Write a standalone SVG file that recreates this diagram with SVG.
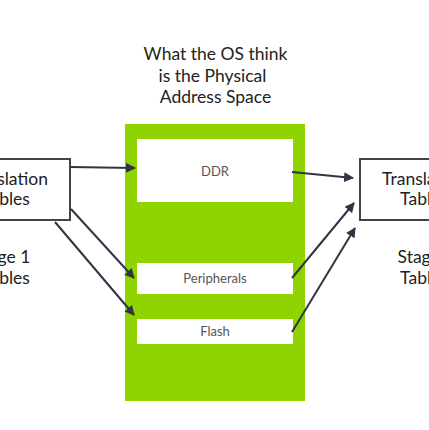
<svg xmlns="http://www.w3.org/2000/svg" width="429" height="430" viewBox="0 0 429 430">
<defs>
<marker id="ah" viewBox="0 0 10 10" refX="9" refY="5" markerWidth="5" markerHeight="5" orient="auto" markerUnits="strokeWidth">
<path d="M0,0 L10,5 L0,10 z" fill="#2f3542"/>
</marker>
<style>
text{font-family:Lato,"Open Sans","Liberation Sans",sans-serif}
.big{font-size:17.5px;fill:#222;text-anchor:middle}
.small{font-size:13px;fill:#555;text-anchor:middle}
.box{fill:#fff;stroke:#444;stroke-width:2}
.mem{fill:#fff}
.conn line{stroke:#2f3542;stroke-width:2;marker-end:url(#ah)}
</style>
</defs>
<rect width="429" height="430" fill="#fff"/>
<g id="title">
<text class="big" x="215.5" y="60">What the OS think</text>
<text class="big" x="212.5" y="82">is the Physical</text>
<text class="big" x="215.5" y="103">Address Space</text>
</g>
<g id="address-space">
<rect x="125" y="124" width="180" height="277" fill="#8fd400"/>
</g>
<g id="ddr">
<rect class="mem" x="137" y="139" width="156" height="63"/>
<text class="small" x="215" y="176">DDR</text>
</g>
<g id="peripherals">
<rect class="mem" x="137" y="263" width="156" height="31"/>
<text class="small" x="215" y="283">Peripherals</text>
</g>
<g id="flash">
<rect class="mem" x="137" y="319" width="156" height="25"/>
<text class="small" x="215" y="336">Flash</text>
</g>
<g id="left-tables">
<rect class="box" x="-54" y="159" width="124" height="61"/>
<text class="big" x="6" y="185">Translation</text>
<text class="big" x="6" y="205">Tables</text>
</g>
<g id="left-label">
<text class="big" x="2" y="263">Stage 1</text>
<text class="big" x="6" y="284">Tables</text>
</g>
<g id="right-tables">
<rect class="box" x="360" y="159" width="124" height="61"/>
<text class="big" x="424" y="185">Translation</text>
<text class="big" x="424" y="205">Tables</text>
</g>
<g id="right-label">
<text class="big" x="426" y="263">Stage 2</text>
<text class="big" x="424" y="284">Tables</text>
</g>
<g class="conn" id="connectors">
<line x1="70" y1="167" x2="135" y2="168"/>
<line x1="71" y1="209" x2="134" y2="278"/>
<line x1="55" y1="222" x2="134" y2="315"/>
<line x1="292" y1="172" x2="353" y2="178"/>
<line x1="292" y1="278" x2="354" y2="203"/>
<line x1="292" y1="332" x2="355" y2="228"/>
</g>
</svg>
